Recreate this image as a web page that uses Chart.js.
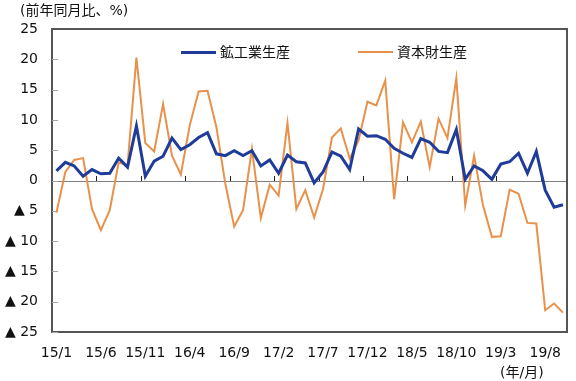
<!DOCTYPE html>
<html lang="ja">
<head>
<meta charset="utf-8">
<script src="https://cdn.jsdelivr.net/npm/chart.js@4.4.1/dist/chart.umd.min.js"></script>
<style>
    html, body { margin: 0; padding: 0; background: #fff; }
    #wrap { width: 576px; height: 381px; }
</style>
</head>
<body>
<div id="wrap"><canvas id="myChart" width="576" height="381"></canvas></div>
<script>
// months 15/1 .. 19/10
const months = [
    '15/1', '15/2', '15/3', '15/4', '15/5', '15/6', '15/7', '15/8', '15/9', '15/10', '15/11', '15/12',
    '16/1', '16/2', '16/3', '16/4', '16/5', '16/6', '16/7', '16/8', '16/9', '16/10', '16/11', '16/12',
    '17/1', '17/2', '17/3', '17/4', '17/5', '17/6', '17/7', '17/8', '17/9', '17/10', '17/11', '17/12',
    '18/1', '18/2', '18/3', '18/4', '18/5', '18/6', '18/7', '18/8', '18/9', '18/10', '18/11', '18/12',
    '19/1', '19/2', '19/3', '19/4', '19/5', '19/6', '19/7', '19/8', '19/9', '19/10'
]

// 鉱工業生産 (y/y %)
const mining = [
    1.6, 3.0, 2.4, 0.7, 1.8, 1.1, 1.2, 3.7, 2.2, 9.0,
    0.7, 3.2, 4.0, 7.0, 5.1, 5.9, 7.1, 7.9, 4.4, 4.1,
    4.9, 4.1, 4.9, 2.4, 3.4, 1.2, 4.2, 3.1, 2.9, -0.4,
    1.4, 4.7, 4.0, 1.8, 8.5, 7.3, 7.4, 6.8, 5.3, 4.5,
    3.8, 6.9, 6.3, 4.8, 4.6, 8.4, 0.2, 2.4, 1.6, 0.2,
    2.7, 3.1, 4.5, 1.2, 4.8, -1.6, -4.4, -4.0
]

// 資本財生産 (y/y %)
const capital = [
    -5.3, 1.4, 3.4, 3.7, -4.7, -8.2, -4.9, 3.0, 2.5, 20.3,
    6.2, 4.8, 12.6, 4.1, 1.0, 9.1, 14.7, 14.8, 8.8, -0.5,
    -7.6, -4.9, 5.2, -6.2, -0.7, -2.5, 9.5, -4.7, -1.6, -6.1,
    -1.4, 7.1, 8.6, 3.6, 6.6, 13.0, 12.4, 16.5, -3.1, 9.6,
    6.3, 9.7, 2.2, 10.2, 7.0, 16.9, -4.1, 4.1, -4.1, -9.3,
    -9.2, -1.5, -2.2, -7.0, -7.1, -21.4, -20.3, -21.8
]

const seriesNames = ['鉱工業生産', '資本財生産']
const seriesColors = ['#1f3c98', '#e8914a']
const yMin = -25
const yMax = 25
const yStep = 5
const labelEvery = 5

const unitTitle = '(前年同月比、%)'
const xUnit = '(年/月)'

const fontFamily = '"DejaVu Sans", "Noto Sans CJK JP", sans-serif'
const font = '14px ' + fontFamily
const frameColor = '#555555'

// zero line and the small inner ticks, under the lines
function drawInnerTicks(chart) {
    const ctx = chart.ctx
    const ca = chart.chartArea
    const x = chart.scales.x
    const y = chart.scales.y
    const y0 = Math.round(y.getPixelForValue(0))

    ctx.save()
    ctx.fillStyle = '#808080'
    ctx.fillRect(ca.left, y0, ca.right - ca.left, 1)

    ctx.fillStyle = '#222'
    const half = (x.getPixelForValue(1) - x.getPixelForValue(0)) / 2
    for (let i = labelEvery; i < months.length; i += labelEvery) {
        const px = Math.round(x.getPixelForValue(i) - half)
        ctx.fillRect(px, y0 - 5, 1, 5)
    }

    ctx.fillStyle = '#a6a6a6'
    for (let v = yMin; v <= yMax; v += yStep) {
        const py = Math.round(y.getPixelForValue(v))
        ctx.fillRect(ca.left, py, 6, 1)
    }
    ctx.restore()
}

// top and right edges of the plot frame (left and bottom come from the axes)
function drawFrame(chart) {
    const ctx = chart.ctx
    const ca = chart.chartArea
    const l = Math.round(ca.left) - 1
    const r = Math.round(ca.right)
    const t = Math.round(ca.top) - 1
    const b = Math.round(ca.bottom)

    ctx.save()
    ctx.fillStyle = frameColor
    ctx.fillRect(l, t, r - l + 1, 2)
    ctx.fillRect(r - 1, t, 2, b - t + 1)
    ctx.restore()
}

const decorPlugin = {
    id: 'decor',
    beforeDatasetsDraw(chart) {
        drawInnerTicks(chart)
    },
    afterDraw(chart) {
        drawFrame(chart)

        const ctx = chart.ctx
        const ca = chart.chartArea
        ctx.save()
        ctx.font = font
        ctx.fillStyle = '#111'
        ctx.textBaseline = 'middle'
        ctx.textAlign = 'left'
        ctx.fillText(unitTitle, 20, 11)
        ctx.fillText(xUnit, 500, 373)

        // legend
        const legendX = [ca.left + 129, ca.left + 306]
        const ly = Math.round(ca.top + 23)
        seriesNames.forEach((name, i) => {
            const lw = i === 0 ? 3 : 2
            ctx.fillStyle = seriesColors[i]
            ctx.fillRect(legendX[i], ly - Math.floor(lw / 2), 35, lw)
            ctx.fillStyle = '#111'
            ctx.fillText(name, legendX[i] + 39, ly + 1)
        })
        ctx.restore()
    }
}

const chart = new Chart(document.querySelector('#myChart'), {
    type: 'line',
    data: {
        labels: months,
        datasets: [
            {
                label: seriesNames[0],
                data: mining,
                borderColor: seriesColors[0],
                borderWidth: 3,
                pointRadius: 0,
                tension: 0
            },
            {
                label: seriesNames[1],
                data: capital,
                borderColor: seriesColors[1],
                borderWidth: 2,
                pointRadius: 0,
                tension: 0
            }
        ]
    },
    options: {
        responsive: false,
        animation: false,
        devicePixelRatio: 1,
        layout: { padding: { top: 29, right: 3, left: 0, bottom: 0 } },
        plugins: {
            legend: { display: false },
            tooltip: { enabled: false }
        },
        scales: {
            x: {
                offset: true,
                grid: { display: false, drawTicks: false },
                border: { display: true, color: frameColor, width: 2 },
                afterFit: s => { s.height = 49 },
                ticks: {
                    autoSkip: false,
                    maxRotation: 0,
                    padding: 13,
                    color: '#111',
                    font: { family: fontFamily, size: 14 },
                    callback: function (value, index) {
                        return index % labelEvery === 0 ? this.getLabelForValue(value) : ''
                    }
                }
            },
            y: {
                min: yMin,
                max: yMax,
                grid: { display: false, drawTicks: false },
                border: { display: true, color: frameColor, width: 2 },
                afterFit: s => { s.width = 52 },
                ticks: {
                    stepSize: yStep,
                    padding: 14,
                    color: '#111',
                    font: { family: fontFamily, size: 14 },
                    callback: v => v < 0 ? '▲ ' + (-v) : String(v)
                }
            }
        }
    },
    plugins: [decorPlugin]
})
</script>
</body>
</html>
